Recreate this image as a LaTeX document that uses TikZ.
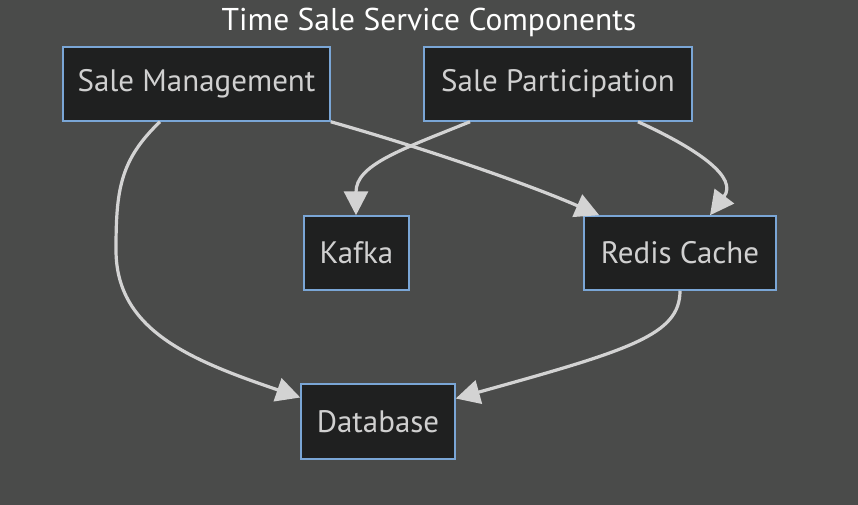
\documentclass[tikz,border=0pt]{standalone}
\usepackage{fontspec}
\setmainfont{PT Sans}
\usetikzlibrary{arrows.meta}
\definecolor{bgc}{HTML}{4A4B4A}
\definecolor{nodefill}{HTML}{1F2020}
\definecolor{nodeline}{HTML}{7AA6D6}
\definecolor{edgec}{HTML}{D3D3D3}
\definecolor{txtc}{HTML}{D0D0D0}
\tikzset{
  box/.style={draw=nodeline, fill=nodefill, line width=1.5pt, text=txtc,
    font=\fontsize{31}{36}\selectfont, inner sep=0pt, minimum height=74pt},
  conn/.style={draw=edgec, line width=3.2pt,
    -{Triangle[length=24pt,width=24pt]}},
}
\begin{document}
\begin{tikzpicture}[x=1pt,y=-1pt]
\fill[bgc] (0,0) rectangle (858,505);
\useasboundingbox (0,0) rectangle (858,505);
\node[text=white, font=\fontsize{31.5}{36}\selectfont] (title) at (429,22) {Time Sale Service Components};
\node[box, minimum width=267pt] (sm) at (196.5,84) {Sale Management};
\node[box, minimum width=268pt] (sp) at (558,84) {Sale Participation};
\node[box, minimum width=105pt] (kafka) at (356.5,253) {Kafka};
\node[box, minimum width=192pt] (redis) at (680,253) {Redis Cache};
\node[box, minimum width=154pt, minimum height=75pt] (db) at (378,421.5) {Database};

\draw[conn] ([xshift=-36.5pt]sm.south) .. controls (120,160) and (116,190) .. (116,250)
  .. controls (116,330) and (190,360) .. ([yshift=24pt]db.west);
\draw[conn] (sm.south east) .. controls (430,150) and (530,185) .. ([xshift=16pt]redis.north west);
\draw[conn] ([xshift=-88pt]sp.south) .. controls (400,150) and (356,165) .. ([xshift=-0.5pt]kafka.north);
\draw[conn] ([xshift=80pt]sp.south) .. controls (700,150) and (738,178) .. ([xshift=30pt]redis.north);
\draw[conn] (redis.south) .. controls (680,335) and (630,350) .. ([yshift=23pt]db.east);
\end{tikzpicture}
\end{document}
